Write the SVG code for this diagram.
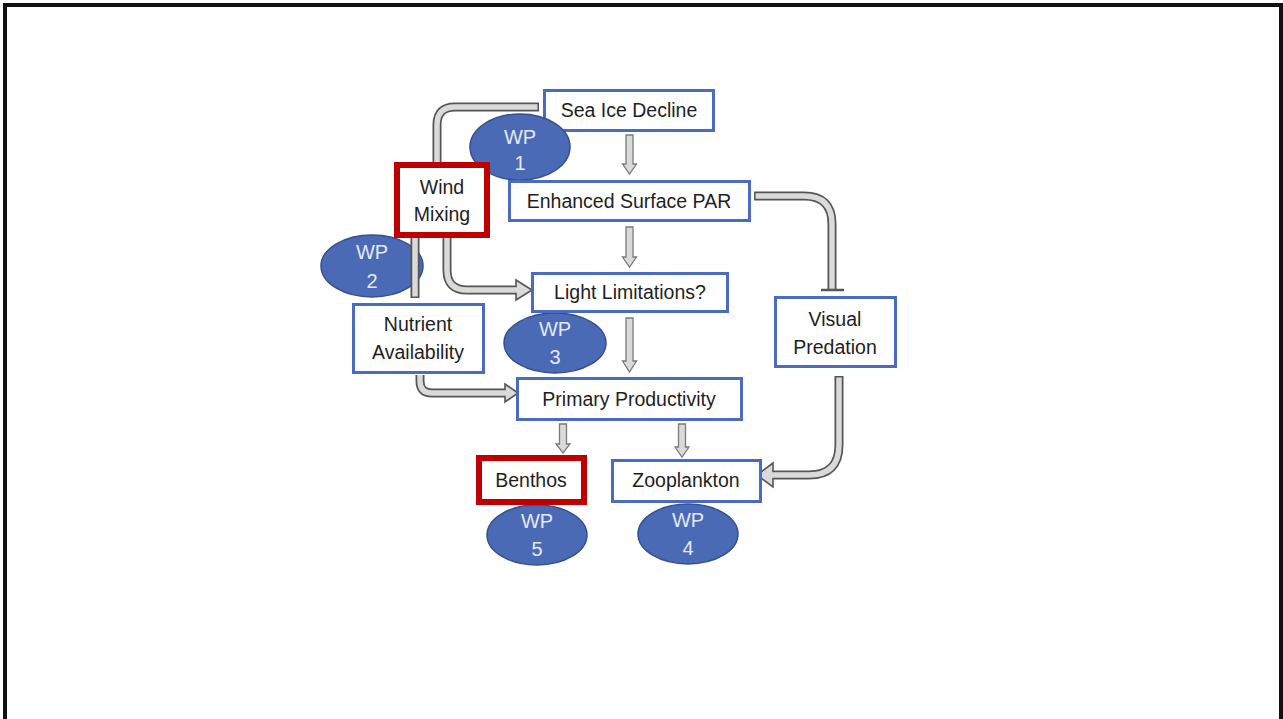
<svg xmlns="http://www.w3.org/2000/svg" width="1283" height="719" viewBox="0 0 1283 719">
<style>
.bg{fill:#ffffff}
.frame{fill:none;stroke:#111;stroke-width:4}
.box{fill:#fff;stroke:#4a6cc0;stroke-width:3}
.rbox{fill:#fff;stroke:#c00000;stroke-width:6}
.wp{fill:#4a6ab5;stroke:#35508f;stroke-width:1.5}
.t{font-family:"Liberation Sans",Arial,sans-serif;font-size:19.5px;fill:#1e1e1e;text-anchor:middle}
.wt{font-family:"Liberation Sans",Arial,sans-serif;font-size:20px;fill:#e4e9f6;text-anchor:middle}
.po{fill:none;stroke:#555;stroke-width:9}
.pi{fill:none;stroke:#dadada;stroke-width:5.5}
.hd{fill:#dadada;stroke:#555;stroke-width:1.6;stroke-linejoin:miter}
.sa{fill:#dadada;stroke:#7a7a7a;stroke-width:1.3}
.bar{stroke:#555;stroke-width:2.5}
</style>
<rect class="bg" x="0" y="0" width="1283" height="719"/>
<path class="frame" d="M5,719 V5 H1281 V719"/>

<g id="node-sea-ice">
<rect class="box" x="544.5" y="90.5" width="169" height="40"/>
<text class="t" x="629" y="117">Sea Ice Decline</text>
</g>

<g id="wp1"><ellipse class="wp" cx="520" cy="147" rx="50" ry="33"/><text class="wt" x="520" y="144">WP</text><text class="wt" x="520" y="170">1</text></g>
<g id="wp2"><ellipse class="wp" cx="372" cy="266" rx="51" ry="31"/><text class="wt" x="372" y="259">WP</text><text class="wt" x="372" y="288">2</text></g>
<g id="wp3"><ellipse class="wp" cx="555" cy="343" rx="51" ry="30"/><text class="wt" x="555" y="336">WP</text><text class="wt" x="555" y="364">3</text></g>
<g id="wp5"><ellipse class="wp" cx="537" cy="535" rx="50" ry="30"/><text class="wt" x="537" y="528">WP</text><text class="wt" x="537" y="556">5</text></g>
<g id="wp4"><ellipse class="wp" cx="688" cy="534" rx="50" ry="30"/><text class="wt" x="688" y="527">WP</text><text class="wt" x="688" y="555">4</text></g>

<g id="connectors">
<!-- Sea Ice -> Wind Mixing (pipe) -->
<path class="po" d="M539,107 H455 Q437,107 437,125 V200"/>
<path class="pi" d="M537.5,107 H455 Q437,107 437,125 V200"/>
<!-- Wind Mixing -> Nutrient -->
<path class="po" d="M415,200 V298"/>
<path class="pi" d="M415,200 V296.5"/>
<!-- Wind Mixing -> Light Limitations -->
<path class="po" d="M447,200 V270 Q447,290 467,290 H517"/>
<polygon class="hd" points="516,280 532,290 516,300"/>
<path class="pi" d="M447,200 V270 Q447,290 467,290 H519"/>
<!-- Nutrient -> Primary -->
<path class="po" d="M420,375 V381 Q420,393 432,393 H507"/>
<polygon class="hd" points="505,384 518,393 505,402"/>
<path class="pi" d="M420,375 V381 Q420,393 432,393 H508"/>
<!-- PAR -| Visual Predation -->
<path class="po" d="M754,196 H804 Q832,196 832,224 V289"/>
<path class="pi" d="M755.5,196 H804 Q832,196 832,224 V289"/>
<line class="bar" x1="821" y1="290" x2="844" y2="290"/>
<!-- Visual Predation -> Zooplankton -->
<path class="po" d="M839,376 V445 Q839,475 809,475 H772"/>
<polygon class="hd" points="773,463 757,475 773,487"/>
<path class="pi" d="M839,377.5 V445 Q839,475 809,475 H771"/>
<!-- small down arrows -->
<polygon class="sa" points="626,135 633,135 633,164 636.5,164 629.5,174 622.5,164 626,164"/>
<polygon class="sa" points="626,227 633,227 633,257 636.5,257 629.5,267 622.5,257 626,257"/>
<polygon class="sa" points="626,318 633,318 633,361 636.5,361 629.5,372 622.5,361 626,361"/>
<polygon class="sa" points="559.5,424 566.5,424 566.5,444 570,444 563,453 556,444 559.5,444"/>
<polygon class="sa" points="678.5,424 685.5,424 685.5,447 689,447 682,457 675,447 678.5,447"/>
</g>

<g id="node-wind-mixing">
<rect class="rbox" x="397" y="165" width="90" height="70"/>
<text class="t" x="442" y="194">Wind</text>
<text class="t" x="442" y="221">Mixing</text>
</g>
<g id="node-par">
<rect class="box" x="509.5" y="181.5" width="240" height="39"/>
<text class="t" x="629" y="208">Enhanced Surface PAR</text>
</g>
<g id="node-light">
<rect class="box" x="532.5" y="273.5" width="195" height="38"/>
<text class="t" x="630" y="299">Light Limitations?</text>
</g>
<g id="node-nutrient">
<rect class="box" x="353.5" y="304.5" width="130" height="68"/>
<text class="t" x="418" y="331">Nutrient</text>
<text class="t" x="418" y="359">Availability</text>
</g>
<g id="node-primary">
<rect class="box" x="517.5" y="378.5" width="224" height="41"/>
<text class="t" x="629" y="406">Primary Productivity</text>
</g>
<g id="node-visual">
<rect class="box" x="775.5" y="297.5" width="120" height="69"/>
<text class="t" x="835" y="326">Visual</text>
<text class="t" x="835" y="354">Predation</text>
</g>
<g id="node-benthos">
<rect class="rbox" x="479" y="458" width="105" height="44"/>
<text class="t" x="531" y="487">Benthos</text>
</g>
<g id="node-zooplankton">
<rect class="box" x="612.5" y="460.5" width="148" height="41"/>
<text class="t" x="686" y="487">Zooplankton</text>
</g>
</svg>
